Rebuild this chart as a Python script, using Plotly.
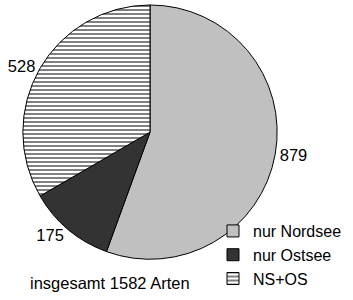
import plotly.graph_objects as go

labels = ["nur Nordsee", "nur Ostsee", "NS+OS"]
values = [879, 175, 528]
colors = ["#c0c0c0", "#333333", "#ffffff"]
patterns = ["", "", "-"]
total_text = "insgesamt %d Arten" % sum(values)

FONT = "Liberation Sans, Arial"

fig = go.Figure(go.Pie(
    labels=labels,
    values=values,
    sort=False,
    direction="clockwise",
    rotation=0,
    textinfo="value",
    textposition="outside",
    textfont=dict(family=FONT, size=16.5, color="black"),
    marker=dict(colors=colors, line=dict(color="black", width=1),
                pattern=dict(shape=patterns, fgcolor="black", size=4, solidity=0.25)),
    domain=dict(x=[22/353, 278/353], y=[41/300, 297/300]),
    hoverinfo="skip",
))

fig.update_layout(
    width=353, height=300,
    margin=dict(l=0, r=0, t=0, b=0),
    paper_bgcolor="white",
    font=dict(family=FONT, size=16, color="black"),
    legend=dict(x=347/353, y=4/300, xanchor="right", yanchor="bottom",
                font=dict(size=16), tracegroupgap=0, itemwidth=30,
                bgcolor="rgba(0,0,0,0)"),
    annotations=[dict(text=total_text, x=109.5/353, y=17/300, xref="paper", yref="paper",
                      showarrow=False, font=dict(size=16.5), xanchor="center", yanchor="middle")],
)

fig.write_html("out.html")
